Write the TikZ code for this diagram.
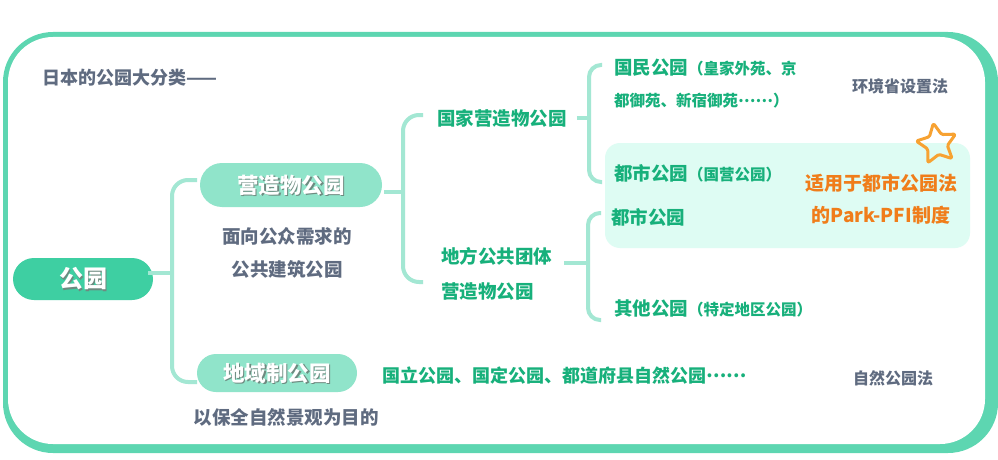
\documentclass[tikz,border=0pt]{standalone}
\usepackage{fontspec}
\setmainfont{Noto Sans CJK SC}
\definecolor{framec}{HTML}{5DD6B1}
\definecolor{rootc}{HTML}{3ECFA2}
\definecolor{subc}{HTML}{90E4CA}
\definecolor{linec}{HTML}{A3E7D3}
\definecolor{greent}{HTML}{17B07B}
\definecolor{grayt}{HTML}{5F6B80}
\definecolor{orangt}{HTML}{F07D1A}
\definecolor{starc}{HTML}{F7A232}
\definecolor{boxc}{HTML}{DEFCF3}
\definecolor{shadc}{HTML}{6E8A80}
\tikzset{
  pill/.style={fill=#1, rounded corners=19pt, inner sep=0pt},
  piltxt/.style={text=white, font=\bfseries, inner sep=0pt},
  pilshad/.style={text=shadc, font=\bfseries, inner sep=0pt},
  conn/.style={draw=linec, line width=4pt},
  gtxt/.style={text=greent, font=\bfseries\fontsize{18.5}{34}\selectfont, inner sep=0pt, anchor=west, align=left},
  graytxt/.style={text=grayt, font=\bfseries\fontsize{16}{20}\selectfont, inner sep=0pt},
  desctxt/.style={text=grayt, font=\bfseries\fontsize{18.5}{33}\selectfont, inner sep=0pt, align=center},
}
\newcommand{\smallpar}[1]{{\fontsize{15.5}{20}\selectfont #1}}
\newcommand{\middots}{\raisebox{0.3em}{……}}
\begin{document}
\begin{tikzpicture}[x=1pt,y=-1pt]
\useasboundingbox (0,0) rectangle (998,460);
% frame
\fill[framec, rounded corners=50pt] (3,32) rectangle (998,453);
\fill[white, rounded corners=45pt] (8,37) rectangle (985,444);
% highlight box
\fill[boxc, rounded corners=15pt] (605,143) rectangle (970,248);
% title
\node[text=grayt, font=\bfseries\fontsize{18}{20}\selectfont, inner sep=0pt, anchor=west] (title) at (42,78) {日本的公园大分类——};
% pills
\node[pill=rootc, minimum width=140pt, minimum height=42pt, rounded corners=21pt] (root) at (83,279) {};
\node[pilshad, font=\bfseries\fontsize{24}{26}\selectfont] at ([xshift=1.5pt,yshift=-1.5pt]root.center) {公园};
\node[piltxt, font=\bfseries\fontsize{24}{26}\selectfont] at (root.center) {公园};
\node[pill=subc, minimum width=182pt, minimum height=44pt, rounded corners=22pt] (yz) at (291,185) {};
\node[pilshad, font=\bfseries\fontsize{21.5}{24}\selectfont] at ([xshift=1.5pt,yshift=-1.5pt]yz.center) {营造物公园};
\node[piltxt, font=\bfseries\fontsize{21.5}{24}\selectfont] at (yz.center) {营造物公园};
\node[pill=subc, minimum width=160pt, minimum height=38pt] (dy) at (277,373) {};
\node[pilshad, font=\bfseries\fontsize{21.5}{24}\selectfont] at ([xshift=1.5pt,yshift=-1.5pt]dy.center) {地域制公园};
\node[piltxt, font=\bfseries\fontsize{21.5}{24}\selectfont] at (dy.center) {地域制公园};
% descriptions
\node[desctxt] (d1) at (287,253) {面向公众需求的\\公共建筑公园};
\node[desctxt] (d2) at (286,417) {以保全自然景观为目的};
% level 2
\node[gtxt] (gj) at (437,118) {国家营造物公园};
\node[gtxt, font=\bfseries\fontsize{18.5}{35}\selectfont] (df) at (441,274) {地方公共团体\\营造物公园};
% level 3
\node[gtxt, font=\bfseries\fontsize{18.5}{32}\selectfont] (gm) at (614,84) {国民公园\smallpar{（皇家外苑、京}\\\smallpar{都御苑、新宿御苑\middots）}};
\node[gtxt] (ds1) at (614,173) {都市公园\smallpar{（国营公园）}};
\node[gtxt] (ds2) at (611,217) {都市公园};
\node[gtxt] (qt) at (614,309) {其他公园\smallpar{（特定地区公园）}};
\node[gtxt, font=\bfseries\fontsize{18}{20}\selectfont] (gl) at (382,376) {国立公园、国定公园、都道府县自然公园\middots};
% notes
\node[graytxt] (hj) at (900,86) {环境省设置法};
\node[graytxt] (zr) at (893,378) {自然公园法};
\node[text=orangt, font=\bfseries\fontsize{19}{32}\selectfont, inner sep=0pt, align=center] (pfi) at (881,199) {适用于都市公园法\\的Park-PFI制度};
% star
\begin{scope}[shift={(937,144)}, yscale=-1]
\draw[starc, line width=3pt, line join=round, rounded corners=1.5pt]
  (100:21) -- (136:10.5) -- (172:21) -- (208:10.5) -- (244:21) -- (280:10.5)
  -- (316:21) -- (352:10.5) -- (28:21) -- (64:10.5) -- cycle;
\end{scope}
% connectors
\coordinate (j0) at (172,273);
\coordinate (e0a) at (197,180);
\coordinate (e0b) at (197,382);
\draw[conn] ([xshift=-5pt]root.east |- j0) -- (j0);
\draw[conn, rounded corners=16pt] (e0a) -| (j0) |- (e0b);
\coordinate (j1) at (403,192);
\coordinate (e1a) at (423,115);
\coordinate (e1b) at (423,282);
\draw[conn] ([xshift=2pt]yz.east |- j1) -- (j1);
\draw[conn, rounded corners=16pt] (e1a) -| (j1) |- (e1b);
\coordinate (j2) at (589,118);
\coordinate (e2a) at (602,65);
\coordinate (e2b) at (602,182);
\draw[conn] ([xshift=10pt]gj.east) -- (j2);
\draw[conn, rounded corners=12pt] (e2a) -| (j2) |- (e2b);
\coordinate (j3) at (588,263);
\coordinate (e3a) at (601,213);
\coordinate (e3b) at (601,320);
\draw[conn] ([xshift=12pt]df.east |- j3) -- (j3);
\draw[conn, rounded corners=12pt] (e3a) -| (j3) |- (e3b);
\end{tikzpicture}
\end{document}
